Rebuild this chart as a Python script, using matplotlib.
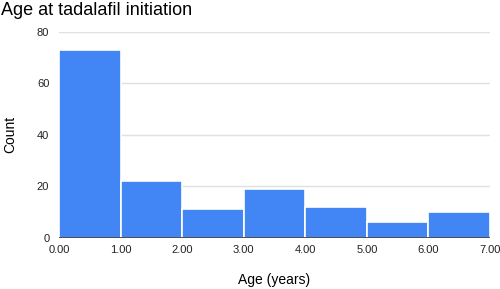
import numpy as np
import matplotlib.pyplot as plt

plt.rcParams['font.family'] = ['Liberation Sans', 'DejaVu Sans']

# histogram bins (years) and counts
bin_edges = [0, 1, 2, 3, 4, 5, 6, 7]
counts = [73, 22, 11, 19, 12, 6, 10]
x_ticks = [0, 1, 2, 3, 4, 5, 6, 7]
y_ticks = [0, 20, 40, 60, 80]

fig = plt.figure(figsize=(5, 2.89), dpi=100)
ax = fig.add_axes([0.118, 0.178, 0.862, 0.711])

ax.bar(bin_edges[:-1], counts, width=np.diff(bin_edges), align='edge',
       color='#4285F4', edgecolor='white', linewidth=1.2, zorder=3)

ax.set_xlim(0, 7)
ax.set_ylim(0, 80)
ax.set_xticks(x_ticks)
ax.set_xticklabels([f'{v:.2f}' for v in x_ticks])
ax.set_yticks(y_ticks)
ax.grid(axis='y', color='#e0e0e0', linewidth=1, zorder=0)
ax.axhline(0, color='#333333', linewidth=1.2, zorder=4)

for s in ['top', 'right', 'left', 'bottom']:
    ax.spines[s].set_visible(False)
ax.tick_params(length=0, labelsize=8, colors='#222222')
ax.tick_params(axis='y', pad=7)
ax.tick_params(axis='x', pad=5)

ax.set_xlabel('Age (years)', fontsize=10, labelpad=13)
ax.set_ylabel('Count', fontsize=10, labelpad=14)
fig.text(0.002, 0.965, 'Age at tadalafil initiation', fontsize=13, va='center', ha='left')

fig.savefig('out.png', dpi=100)
